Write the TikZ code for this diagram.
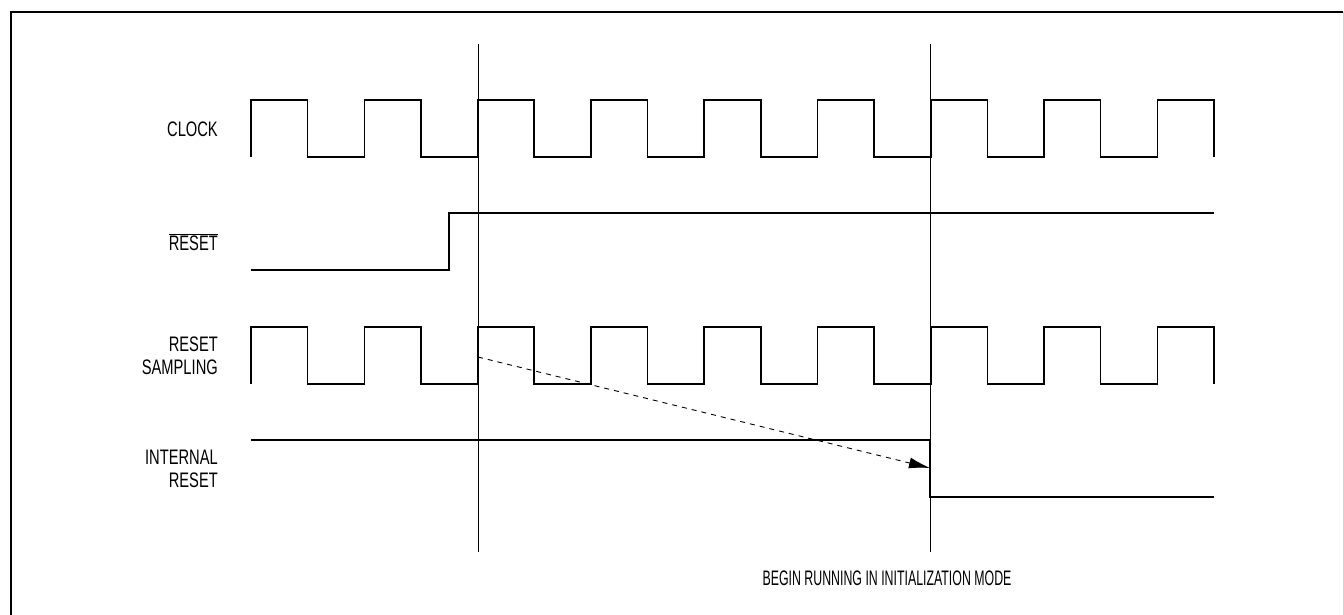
\documentclass[tikz,border=0pt]{standalone}
\usepackage{fontspec}
\setmainfont{Liberation Sans}[FakeStretch=0.70]
\tikzset{>=latex}
\usetikzlibrary{positioning,arrows.meta}

\begin{document}
\begin{tikzpicture}[x=1pt,y=-1pt,
    signal/.style={line width=1.5pt},
    marker/.style={line width=0.9pt},
    sig label/.style={anchor=east,align=right,inner sep=0pt,
                      font=\fontsize{21}{22.5}\selectfont}]
  \useasboundingbox (0,0) rectangle (1344,614);
  % frame
  \draw[line width=2.2pt] (11,630) -- (11,12) -- (1343,12);
  \draw[gray!35,line width=0.8pt] (1343,12) -- (1343,630);
  \pgfmathsetmacro{\hp}{963/17};
  \pgfmathsetmacro{\amp}{57};
  % markers
  \coordinate (m1top) at (478,44);
  \coordinate (m1bot) at (478,552);
  \coordinate (m2top) at (930,44);
  \coordinate (m2bot) at (930,552);
  \draw[marker] (m1top) -- (m1bot);
  \draw[marker] (m2top) -- (m2bot);
  % CLOCK
  \node[sig label] (clk) at (218,129.5) {CLOCK};
  \draw[signal] (251,157) -- ++(0,-\amp) -- ++(\hp,0) -- ++(0,\amp)
    \foreach \i in {1,...,8} { -- ++(\hp,0) -- ++(0,-\amp) -- ++(\hp,0) -- ++(0,\amp) };
  % RESET (active low)
  \node[sig label] (rst) at (218,242) {$\overline{\mbox{RESET}}$};
  \draw[signal] (251,270) -- (449,270) -- (449,213) -- (1214,213);
  % RESET SAMPLING
  \node[sig label] (smp) at (218,356) {RESET\\SAMPLING};
  \draw[signal] (251,384) -- ++(0,-\amp) -- ++(\hp,0) -- ++(0,\amp)
    \foreach \i in {1,...,8} { -- ++(\hp,0) -- ++(0,-\amp) -- ++(\hp,0) -- ++(0,\amp) };
  % INTERNAL RESET
  \node[sig label] (irst) at (218,469) {INTERNAL\\RESET};
  \draw[signal] (251,440) -- (930,440) -- (930,497) -- (1214,497);
  % sampling to internal reset
  \coordinate (s0) at (478,357);
  \coordinate (s1) at (930,468);
  \draw[marker,dash pattern=on 5pt off 5pt,-{Latex[length=21pt,width=11pt]}] (s0) -- (s1);
  \node[inner sep=0pt,font=\fontsize{21}{22.5}\selectfont] (note) at (887,578)
    {\scalebox{0.84}[1]{BEGIN RUNNING IN INITIALIZATION MODE}};
\end{tikzpicture}
\end{document}
